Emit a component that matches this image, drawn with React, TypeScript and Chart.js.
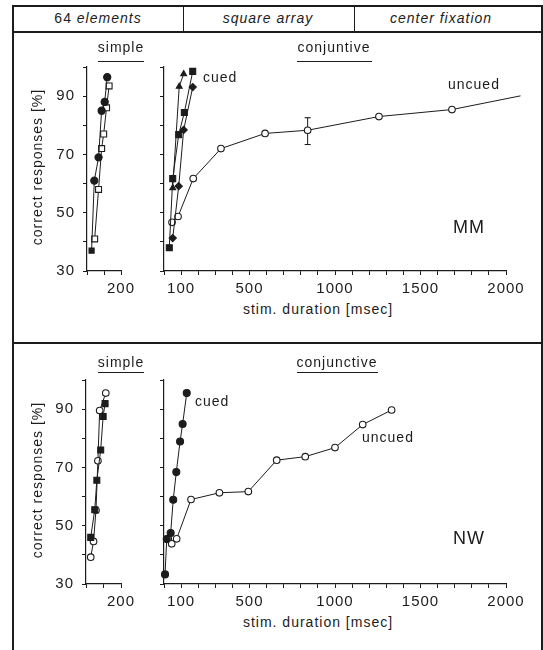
import React, { useEffect, useRef } from 'react';
import { Chart, registerables } from 'chart.js';

Chart.register(...registerables);

const INK = '#1c1c1c';
const FONT = "'Liberation Sans', Arial, Helvetica, sans-serif";

// ---------- axis ticks ----------
const yTickValues = [30, 40, 50, 60, 70, 80, 90, 100];
const yTickLabels = [30, 50, 70, 90];
const simpleXTicks = [0, 100, 200];
const simpleXLabels = [200];
const conjXTicks = [0, 100, 200, 300, 400, 500, 600, 700, 800, 900, 1000, 1100, 1200, 1300, 1400, 1500, 1600, 1700, 1800, 1900, 2000];
const conjXLabels = [100, 500, 1000, 1500, 2000];

// ---------- MM (top) : simple ----------
const mmSimpleFilledX = [27, 43, 68, 86, 104, 119];
const mmSimpleFilledY = [37, 61, 69, 85, 88, 96.5];
const mmSimpleOpenX = [45, 68, 86, 98, 115, 130];
const mmSimpleOpenY = [41, 58, 72, 77, 86, 93.5];

// ---------- MM (top) : conjunctive ----------
const mmCuedSquareX = [31, 51, 86, 119, 168];
const mmCuedSquareY = [38, 61.7, 76.8, 84.4, 98.5];
const mmCuedTriangleX = [51, 89, 115];
const mmCuedTriangleY = [58.5, 93.3, 97.6];
const mmCuedDiamondX = [51, 86, 115, 168];
const mmCuedDiamondY = [41.3, 59.1, 78.4, 93.1];
const mmUncuedX = [47, 82, 171, 333, 591, 840, 1257, 1684, 2085];
const mmUncuedY = [46.7, 48.7, 61.7, 72.0, 77.2, 78.3, 83.0, 85.4, 90.1];
const mmErrorX = [840, 840];
const mmErrorY = [73.4, 82.6];

// ---------- NW (bottom) : simple ----------
const nwSimpleOpenX = [27, 43, 57, 68, 78, 113];
const nwSimpleOpenY = [39.2, 44.6, 55.3, 72.3, 89.5, 95.5];
const nwSimpleFilledX = [27, 50, 62, 84, 98, 109];
const nwSimpleFilledY = [46, 55.5, 65.6, 76, 87.5, 91.9];

// ---------- NW (bottom) : conjunctive ----------
const nwCuedX = [6, 16, 39, 54, 72, 94, 109, 133];
const nwCuedY = [33.3, 45.4, 47.5, 58.9, 68.4, 78.9, 84.9, 95.5];
const nwUncuedX = [25, 45, 74, 158, 324, 493, 659, 826, 1000, 1162, 1331];
const nwUncuedY = [45.4, 43.8, 45.5, 59.0, 61.3, 61.7, 72.5, 73.7, 76.8, 84.7, 89.7];

type Series = {
  xs: number[];
  ys: number[];
  style: any;
  fill: boolean;
  radius?: number;
};

type PlotCfg = {
  series: Series[];
  xMin: number;
  xMax: number;
  xTicks: number[];
  xLabels: number[];
  yLabels: boolean;
  yAxisW: number;
  padTop: number;
  padRight: number;
  xAxisH: number;
};

const spacingPlugin = {
  id: 'letterSpacing',
  beforeDraw(chart: any) {
    try {
      chart.ctx.letterSpacing = '1px';
    } catch (e) {
      /* ignore */
    }
  },
};

function buildConfig(p: PlotCfg): any {
  const datasets = p.series.map((s) => ({
    data: s.xs.map((x, i) => ({ x, y: s.ys[i] })),
    borderColor: INK,
    borderWidth: 1,
    pointStyle: s.style,
    pointRadius: s.radius ?? 3.3,
    pointBackgroundColor: s.fill ? INK : '#ffffff',
    pointBorderColor: INK,
    pointBorderWidth: 1.1,
    tension: 0,
    clip: false,
    fill: false,
  }));
  return {
    type: 'line',
    data: { datasets },
    plugins: [spacingPlugin],
    options: {
      responsive: false,
      maintainAspectRatio: false,
      animation: false,
      devicePixelRatio: 1,
      layout: { padding: { left: 0, right: p.padRight, top: p.padTop, bottom: 0 } },
      plugins: {
        legend: { display: false },
        tooltip: { enabled: false },
        title: { display: false },
      },
      scales: {
        x: {
          type: 'linear',
          min: p.xMin,
          max: p.xMax,
          afterBuildTicks: (sc: any) => {
            sc.ticks = p.xTicks.map((v) => ({ value: v }));
          },
          afterFit: (sc: any) => {
            sc.height = p.xAxisH;
          },
          ticks: {
            autoSkip: false,
            maxRotation: 0,
            padding: 5,
            color: INK,
            font: { family: FONT, size: 15 },
            callback: (v: any) => (p.xLabels.includes(Number(v)) ? String(v) : ''),
          },
          grid: { drawOnChartArea: false, drawTicks: true, tickLength: 4, color: INK, lineWidth: 1 },
          border: { display: true, color: INK, width: 1.2 },
        },
        y: {
          type: 'linear',
          min: 30,
          max: 100,
          afterBuildTicks: (sc: any) => {
            sc.ticks = yTickValues.map((v) => ({ value: v }));
          },
          afterFit: (sc: any) => {
            sc.width = p.yAxisW;
          },
          ticks: {
            autoSkip: false,
            padding: 8,
            color: INK,
            font: { family: FONT, size: 15 },
            callback: (v: any) => (p.yLabels && yTickLabels.includes(Number(v)) ? String(v) : ''),
          },
          grid: { drawOnChartArea: false, drawTicks: true, tickLength: 4, color: INK, lineWidth: 1 },
          border: { display: true, color: INK, width: 1.2 },
        },
      },
    },
  };
}

function Plot({ left, top, width, height, cfg }: { left: number; top: number; width: number; height: number; cfg: PlotCfg }) {
  const ref = useRef<HTMLCanvasElement>(null);
  useEffect(() => {
    const chart = new Chart(ref.current as HTMLCanvasElement, buildConfig(cfg));
    return () => chart.destroy();
  }, []);
  return (
    <canvas
      ref={ref}
      width={width}
      height={height}
      style={{ position: 'absolute', left, top, width, height }}
    />
  );
}

function Txt({ x, y, children, align = 'left', size = 14, italic = false, spacing = 1 }: any) {
  return (
    <div
      style={{
        position: 'absolute',
        left: x,
        top: y,
        transform: align === 'center' ? 'translate(-50%, -50%)' : 'translate(0, -50%)',
        fontFamily: FONT,
        fontSize: size,
        fontStyle: italic ? 'italic' : 'normal',
        letterSpacing: spacing,
        color: INK,
        whiteSpace: 'nowrap',
        lineHeight: 1,
      }}
    >
      {children}
    </div>
  );
}

function Line({ x, y, w, h }: { x: number; y: number; w: number; h: number }) {
  return <div style={{ position: 'absolute', left: x, top: y, width: w, height: h, background: INK }} />;
}

const S_LEFT = 0;
const S_W = 140;
const C_LEFT = 140;
const C_W = 403;
const PANEL_H = 251;
const TOP_Y = 50;
const BOT_Y = 363;

const common = { xAxisH: 30, padTop: 17 };

const mmSimple: PlotCfg = {
  ...common,
  series: [
    { xs: mmSimpleFilledX, ys: mmSimpleFilledY, style: ['rect', 'circle', 'circle', 'circle', 'circle', 'circle'], fill: true, radius: 3.6 },
    { xs: mmSimpleOpenX, ys: mmSimpleOpenY, style: 'rect', fill: false, radius: 4.2 },
  ],
  xMin: 0, xMax: 200, xTicks: simpleXTicks, xLabels: simpleXLabels, yLabels: true, yAxisW: 87, padRight: 19,
};

const mmConj: PlotCfg = {
  ...common,
  series: [
    { xs: mmCuedSquareX, ys: mmCuedSquareY, style: 'rect', fill: true, radius: 4.2 },
    { xs: mmCuedTriangleX, ys: mmCuedTriangleY, style: 'triangle', fill: true, radius: 3.4 },
    { xs: mmCuedDiamondX, ys: mmCuedDiamondY, style: 'rectRot', fill: true, radius: 3.6 },
    { xs: mmUncuedX, ys: mmUncuedY, style: 'circle', fill: false, radius: 3.3 },
    { xs: mmErrorX, ys: mmErrorY, style: 'line', fill: false, radius: 3 },
  ],
  xMin: 0, xMax: 2000, xTicks: conjXTicks, xLabels: conjXLabels, yLabels: false, yAxisW: 24, padRight: 37,
};

const nwSimple: PlotCfg = {
  ...common,
  series: [
    { xs: nwSimpleFilledX, ys: nwSimpleFilledY, style: 'rect', fill: true, radius: 4.2 },
    { xs: nwSimpleOpenX, ys: nwSimpleOpenY, style: 'circle', fill: false, radius: 3.3 },
  ],
  xMin: 0, xMax: 200, xTicks: simpleXTicks, xLabels: simpleXLabels, yLabels: true, yAxisW: 86, padRight: 19,
};

const nwConj: PlotCfg = {
  ...common,
  series: [
    { xs: nwCuedX, ys: nwCuedY, style: 'circle', fill: true, radius: 3.5 },
    { xs: nwUncuedX, ys: nwUncuedY, style: 'circle', fill: false, radius: 3.3 },
  ],
  xMin: 0, xMax: 2000, xTicks: conjXTicks, xLabels: conjXLabels, yLabels: false, yAxisW: 24, padRight: 37,
};

export default function App() {
  return (
    <div style={{ position: 'absolute', left: 0, top: 0, width: 543, height: 650, overflow: 'hidden', background: '#fff' }}>
      {/* frame */}
      <Line x={12} y={5} w={530} h={1.5} />
      <Line x={12} y={5} w={1.5} h={645} />
      <Line x={541} y={5} w={1.5} h={645} />
      <Line x={12} y={31} w={530} h={1.5} />
      <Line x={12} y={342} w={530} h={1.5} />
      <Line x={183} y={5} w={1.2} h={26} />
      <Line x={354} y={5} w={1.2} h={26} />

      {/* header */}
      <Txt x={98} y={18} align="center">64 <i>elements</i></Txt>
      <Txt x={268} y={18} align="center" italic>square array</Txt>
      <Txt x={441} y={18} align="center" italic>center fixation</Txt>

      {/* charts */}
      <Plot left={S_LEFT} top={TOP_Y} width={S_W} height={PANEL_H} cfg={mmSimple} />
      <Plot left={C_LEFT} top={TOP_Y} width={C_W} height={PANEL_H} cfg={mmConj} />
      <Plot left={S_LEFT} top={BOT_Y} width={S_W} height={PANEL_H} cfg={nwSimple} />
      <Plot left={C_LEFT} top={BOT_Y} width={C_W} height={PANEL_H} cfg={nwConj} />

      {/* top panel texts */}
      <Txt x={121} y={47} align="center">simple</Txt>
      <Line x={98} y={61} w={46} h={1.2} />
      <Txt x={334} y={47} align="center">conjuntive</Txt>
      <Line x={297} y={61} w={75} h={1.2} />
      <Txt x={203} y={77}>cued</Txt>
      <Txt x={448} y={84}>uncued</Txt>
      <Txt x={453} y={227} size={18}>MM</Txt>
      <Txt x={318} y={309} align="center" size={14}>stim. duration [msec]</Txt>
      <div style={{ position: 'absolute', left: 37, top: 167, transform: 'translate(-50%, -50%) rotate(-90deg)', fontFamily: FONT, fontSize: 14, letterSpacing: 1, color: INK, whiteSpace: 'nowrap', lineHeight: 1 }}>correct responses [%]</div>

      {/* bottom panel texts */}
      <Txt x={121} y={362} align="center">simple</Txt>
      <Line x={98} y={372} w={46} h={1.2} />
      <Txt x={337} y={362} align="center">conjunctive</Txt>
      <Line x={297} y={372} w={81} h={1.2} />
      <Txt x={195} y={401}>cued</Txt>
      <Txt x={362} y={437}>uncued</Txt>
      <Txt x={453} y={538} size={18}>NW</Txt>
      <Txt x={318} y={622} align="center" size={14}>stim. duration [msec]</Txt>
      <div style={{ position: 'absolute', left: 37, top: 480, transform: 'translate(-50%, -50%) rotate(-90deg)', fontFamily: FONT, fontSize: 14, letterSpacing: 1, color: INK, whiteSpace: 'nowrap', lineHeight: 1 }}>correct responses [%]</div>
    </div>
  );
}
